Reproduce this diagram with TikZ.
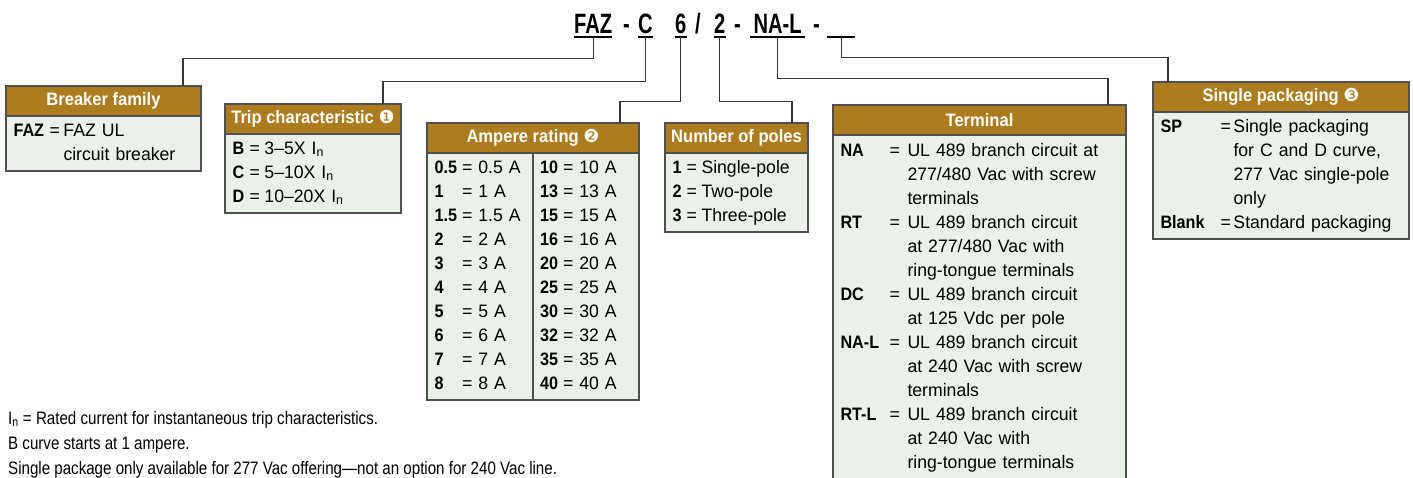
\documentclass[tikz,border=0pt]{standalone}
\usepackage{fontspec}
\setmainfont[FakeStretch=0.98, BoldFeatures={FakeStretch=0.9}]{Liberation Sans}
\newfontfamily\titlefont[FakeStretch=0.72]{Liberation Sans}
\newfontfamily\headfont[FakeStretch=0.92]{Liberation Sans}
\newfontfamily\notefont[FakeStretch=0.84]{Liberation Sans}
\newfontfamily\circfont{DejaVu Sans}

\definecolor{hdrbrown}{RGB}{172,124,30}
\definecolor{bodygreen}{RGB}{234,241,233}
\definecolor{edgegray}{RGB}{80,80,80}
\definecolor{linkgray}{RGB}{55,55,55}

\begin{document}
\begin{tikzpicture}[
    x=1pt, y=-1pt,
    every node/.style={font=\fontsize{18}{24}\selectfont},
    code/.style={font=\titlefont\fontsize{28}{30}\selectfont\bfseries, inner xsep=0pt, inner ysep=4pt, text depth=0pt, anchor=base west},
    header/.style={draw=edgegray, line width=1.2pt, fill=hdrbrown, text=white, font=\headfont\fontsize{18}{24}\selectfont\bfseries, minimum height=30pt, inner sep=0pt, outer sep=0pt, anchor=north west},
    body/.style={draw=edgegray, line width=1.2pt, fill=bodygreen, inner xsep=7.5pt, inner ysep=3.5pt, outer sep=0pt, align=left, anchor=north west},
    link/.style={draw=linkgray, line width=1.3pt},
    uline/.style={draw=black, line width=2.2pt},
    note/.style={font=\notefont\fontsize{18}{24}\selectfont, inner sep=0pt, anchor=base west}
]
\useasboundingbox (0,0) rectangle (1413,477);

% Catalog number
\node[code] (tFAZ) at (574,33) {FAZ};
\node[code] (dashA) at (623,33) {-};
\node[code] (tC) at (638,33) {C};
\node[code] (t6) at (675,33) {6};
\node[code] (slash) at (695,33) {/};
\node[code] (t2) at (714,33) {2};
\node[code] (dashB) at (734,33) {-};
\node[code, minimum width=55pt] (tNAL) at (750,33) {NA-L};
\node[code] (dashC) at (813,33) {-};
\node[code, minimum width=28pt] (tBlank) at (827,33) {};
\foreach \n in {tFAZ,tC,t6,t2,tNAL,tBlank}
    \draw[uline] (\n.south west) -- (\n.south east);

% Breaker family
\node[header, minimum width=195pt] (famH) at (6,86) {Breaker family};
\node[body, text width=180pt] (famB) at (famH.south west) {%
\begin{tabular}{@{}p{36pt}@{}p{14pt}@{}l@{}}
\textbf{FAZ} & = & FAZ UL\\
 & & circuit breaker
\end{tabular}};

% Trip characteristic
\node[header, minimum width=176pt] (tripH) at (225,104) {Trip characteristic {\circfont\mdseries ❶}};
\node[body, text width=161pt] (tripB) at (tripH.south west) {%
\begin{tabular}{@{}p{17pt}@{}p{15pt}@{}l@{}}
\textbf{B} & = & 3–5X I\textsubscript{n}\\
\textbf{C} & = & 5–10X I\textsubscript{n}\\
\textbf{D} & = & 10–20X I\textsubscript{n}
\end{tabular}};

% Ampere rating
\node[header, minimum width=212pt] (ampH) at (427,123) {Ampere rating {\circfont\mdseries ❷}};
\node[body, text width=197pt] (ampB) at (ampH.south west) {%
\begin{tabular}{@{}p{27.5pt}@{}p{78pt}@{}p{23pt}@{}l@{}}
\textbf{0.5} & = 0.5 A & \textbf{10} & = 10 A\\
\textbf{1} & = 1 A & \textbf{13} & = 13 A\\
\textbf{1.5} & = 1.5 A & \textbf{15} & = 15 A\\
\textbf{2} & = 2 A & \textbf{16} & = 16 A\\
\textbf{3} & = 3 A & \textbf{20} & = 20 A\\
\textbf{4} & = 4 A & \textbf{25} & = 25 A\\
\textbf{5} & = 5 A & \textbf{30} & = 30 A\\
\textbf{6} & = 6 A & \textbf{32} & = 32 A\\
\textbf{7} & = 7 A & \textbf{35} & = 35 A\\
\textbf{8} & = 8 A & \textbf{40} & = 40 A
\end{tabular}};
\draw[draw=edgegray, line width=1.2pt] (ampB.north -| 533,0) -- (ampB.south -| 533,0);

% Number of poles
\node[header, minimum width=143pt] (polesH) at (665,123) {Number of poles};
\node[body, text width=128pt] (polesB) at (polesH.south west) {%
\begin{tabular}{@{}p{14pt}@{}p{15pt}@{}l@{}}
\textbf{1} & = & Single-pole\\
\textbf{2} & = & Two-pole\\
\textbf{3} & = & Three-pole
\end{tabular}};

% Terminal
\node[header, minimum width=293pt] (termH) at (833,105) {Terminal};
\node[body, text width=278pt, inner ysep=5pt] (termB) at (termH.south west) {%
\begin{tabular}{@{}p{49pt}@{}p{18pt}@{}l@{}}
\textbf{NA} & = & UL 489 branch circuit at\\
 & & 277/480 Vac with screw\\
 & & terminals\\
\textbf{RT} & = & UL 489 branch circuit\\
 & & at 277/480 Vac with\\
 & & ring-tongue terminals\\
\textbf{DC} & = & UL 489 branch circuit\\
 & & at 125 Vdc per pole\\
\textbf{NA-L} & = & UL 489 branch circuit\\
 & & at 240 Vac with screw\\
 & & terminals\\
\textbf{RT-L} & = & UL 489 branch circuit\\
 & & at 240 Vac with\\
 & & ring-tongue terminals
\end{tabular}};

% Single packaging
\node[header, minimum width=256pt] (packH) at (1153,82) {Single packaging {\circfont\mdseries ❸}};
\node[body, text width=241pt] (packB) at (packH.south west) {%
\begin{tabular}{@{}p{60pt}@{}p{13pt}@{}l@{}}
\textbf{SP} & = & Single packaging\\
 & & for C and D curve,\\
 & & 277 Vac single-pole\\
 & & only\\
\textbf{Blank} & = & Standard packaging
\end{tabular}};

% Leaders from the code to the boxes
\draw[link] (tFAZ.south) -- ++(0,21) -| ([xshift=-18pt]famH.north east);
\draw[link] (tC.south) -- ++(0,44) -| ([xshift=-18pt]tripH.north east);
\draw[link] (t6.south) -- ++(0,64) -| ([xshift=-19pt]ampH.north east);
\draw[link] (t2.south) -- ++(0,64) -| ([xshift=-16pt]polesH.north east);
\draw[link] (tNAL.south) -- ++(0,41) -| ([xshift=-18pt]termH.north east);
\draw[link] (tBlank.south) -- ++(0,20) -| ([xshift=15pt]packH.north west);

% Notes
\node[note] (noteA) at (8,424) {I\textsubscript{n} = Rated current for instantaneous trip characteristics.};
\node[note] (noteB) at (8,449) {B curve starts at 1 ampere.};
\node[note] (noteC) at (8,474) {Single package only available for 277 Vac offering—not an option for 240 Vac line.};

\end{tikzpicture}
\end{document}
